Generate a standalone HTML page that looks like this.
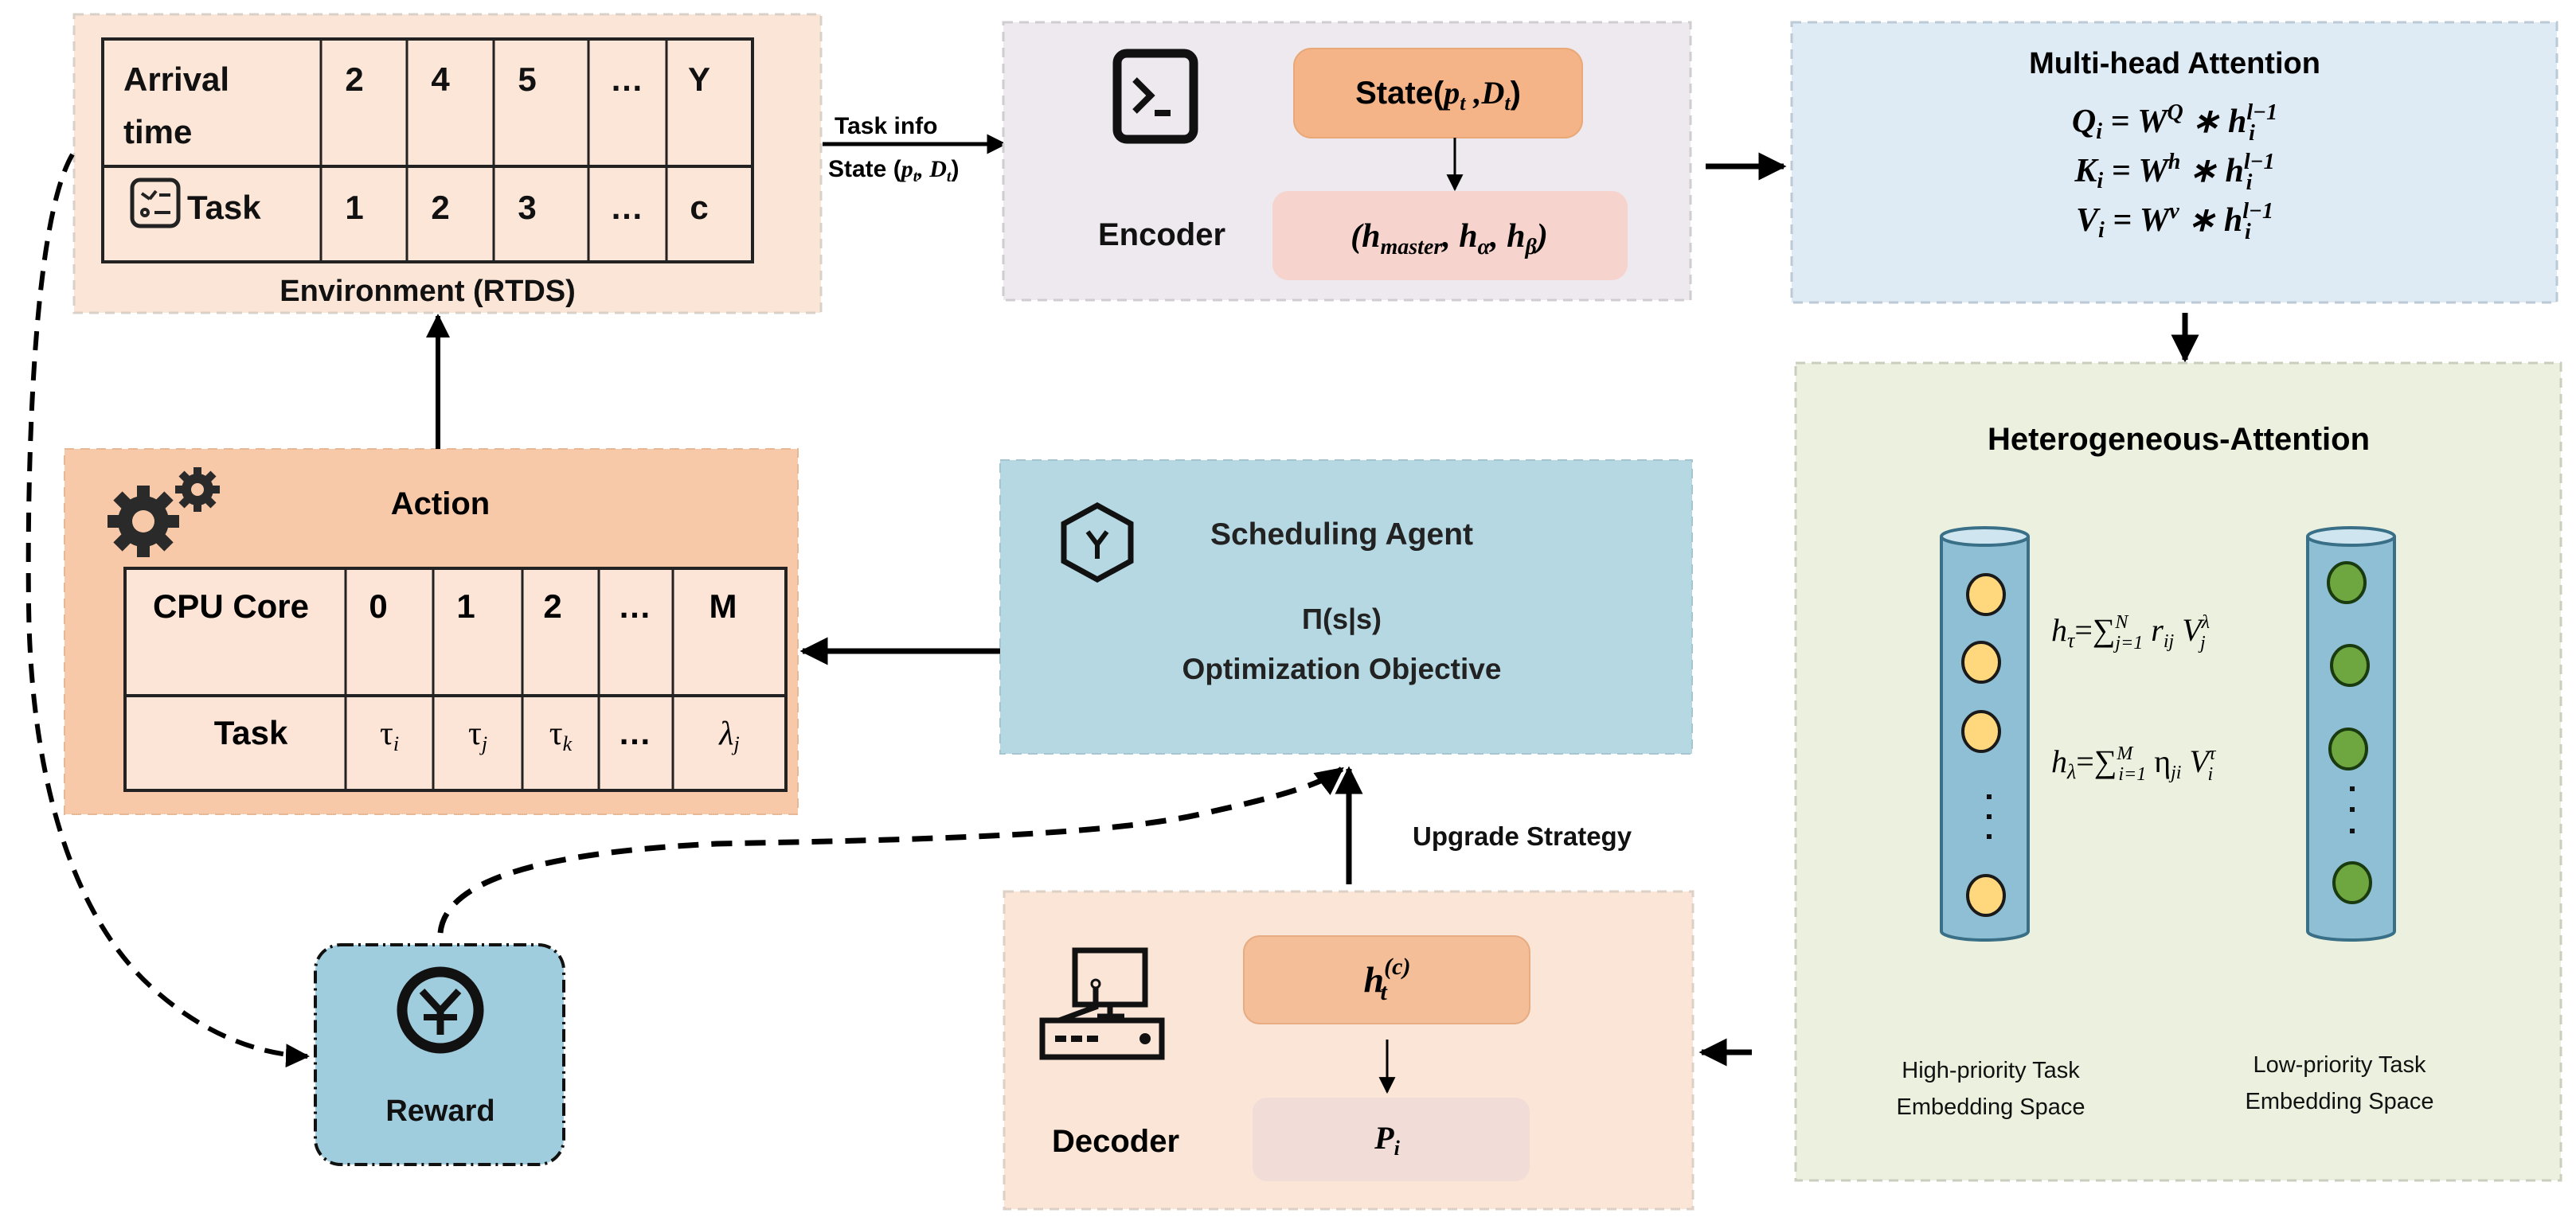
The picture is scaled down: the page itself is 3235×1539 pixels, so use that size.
<!DOCTYPE html>
<html><head><meta charset="utf-8"><style>html,body{margin:0;padding:0;background:#fff}svg{display:block}</style></head><body>
<svg width="3235" height="1539" viewBox="0 0 3235 1539" xmlns="http://www.w3.org/2000/svg" font-family="Liberation Sans, sans-serif">
<defs>
<marker id="ah" viewBox="0 0 10 10" refX="9" refY="5" markerWidth="5" markerHeight="5" orient="auto"><path d="M0,0 L10,5 L0,10 z" fill="#000"/></marker>
<marker id="ahs" viewBox="0 0 10 10" refX="9" refY="5" markerWidth="7" markerHeight="7" orient="auto"><path d="M0,0 L10,5 L0,10 z" fill="#000"/></marker>
</defs>

<!-- Environment -->
<rect x="93" y="18" width="938" height="375" fill="#fbe5d6" stroke="#d9d0c8" stroke-width="3" stroke-dasharray="12,8"/>
<rect x="129" y="49" width="816" height="280" fill="#fce6d8" stroke="#222" stroke-width="4"/>
<line x1="129" y1="209" x2="945" y2="209" stroke="#222" stroke-width="4"/>
<g stroke="#222" stroke-width="3"><line x1="403" y1="49" x2="403" y2="329"/><line x1="511" y1="49" x2="511" y2="329"/><line x1="620" y1="49" x2="620" y2="329"/><line x1="739" y1="49" x2="739" y2="329"/><line x1="837" y1="49" x2="837" y2="329"/></g>
<g font-size="42" font-weight="bold" fill="#111">
<text x="155" y="114">Arrival</text><text x="155" y="180">time</text>
<g text-anchor="middle"><text x="445" y="114">2</text><text x="553" y="114">4</text><text x="662" y="114">5</text><text x="787" y="114">…</text><text x="878" y="114">Y</text>
<text x="445" y="275">1</text><text x="553" y="275">2</text><text x="662" y="275">3</text><text x="787" y="275">…</text><text x="878" y="275">c</text></g>
<text x="235" y="275">Task</text></g>
<rect x="166" y="226" width="58" height="58" rx="10" fill="none" stroke="#222" stroke-width="5"/>
<g stroke="#222" stroke-width="4"><line x1="178" y1="243" x2="188" y2="250"/><line x1="188" y1="250" x2="196" y2="240"/><line x1="200" y1="245" x2="214" y2="245"/><circle cx="182" cy="267" r="4" fill="none"/><line x1="194" y1="267" x2="214" y2="267"/></g>
<text x="537" y="378" font-size="38" font-weight="bold" text-anchor="middle" fill="#111">Environment (RTDS)</text>

<!-- Task info arrow -->
<line x1="1033" y1="181" x2="1262" y2="181" stroke="#000" stroke-width="5" marker-end="url(#ah)"/>
<text x="1048" y="168" font-size="30" font-weight="bold">Task info</text>
<text x="1040" y="222" font-size="30" font-weight="bold">State (<tspan font-family="Liberation Serif, serif" font-style="italic">p<tspan font-size="20" dy="6">t</tspan><tspan dy="-6">, D</tspan><tspan font-size="20" dy="6">t</tspan></tspan><tspan dy="-6">)</tspan></text>

<!-- Encoder -->
<rect x="1260" y="28" width="863" height="349" fill="#ede9ee" stroke="#d0ccd0" stroke-width="3" stroke-dasharray="12,8"/>
<rect x="1403" y="67" width="96" height="108" rx="12" fill="none" stroke="#111" stroke-width="11"/>
<path d="M1425,100 L1445,120 L1425,140" fill="none" stroke="#111" stroke-width="8"/>
<line x1="1450" y1="142" x2="1470" y2="142" stroke="#111" stroke-width="8"/>
<text x="1459" y="308" font-size="40" font-weight="bold" text-anchor="middle" fill="#111">Encoder</text>
<rect x="1625" y="61" width="362" height="112" rx="22" fill="#f4b487" stroke="#e8a878" stroke-width="2"/>
<text x="1806" y="130" font-size="40" font-weight="bold" text-anchor="middle">State(<tspan font-family="Liberation Serif, serif" font-style="italic">p<tspan font-size="26" dy="8">t</tspan><tspan dy="-8"> ,D</tspan><tspan font-size="26" dy="8">t</tspan></tspan><tspan dy="-8">)</tspan></text>
<line x1="1827" y1="173" x2="1827" y2="238" stroke="#000" stroke-width="3" marker-end="url(#ahs)"/>
<rect x="1598" y="240" width="446" height="112" rx="20" fill="#f6d3cc"/>
<text x="1820" y="310" font-size="42" font-weight="bold" font-style="italic" font-family="Liberation Serif, serif" text-anchor="middle">(h<tspan font-size="28" dy="9">master</tspan><tspan dy="-9">, h</tspan><tspan font-size="28" dy="9">α</tspan><tspan dy="-9">, h</tspan><tspan font-size="28" dy="9">β</tspan><tspan dy="-9">)</tspan></text>

<!-- Encoder -> MHA -->
<line x1="2142" y1="209" x2="2240" y2="209" stroke="#000" stroke-width="7" marker-end="url(#ah)"/>

<!-- MHA -->
<rect x="2250" y="28" width="961" height="352" fill="#deebf4" stroke="#bccad6" stroke-width="3" stroke-dasharray="12,8"/>
<text x="2731" y="92" font-size="38" font-weight="bold" text-anchor="middle">Multi-head Attention</text>
<g font-family="Liberation Serif, serif" font-size="42" font-weight="bold" font-style="italic" text-anchor="middle">
<text x="2731" y="166">Q<tspan font-size="28" dy="8">i</tspan><tspan dy="-8"> = W</tspan><tspan font-size="28" dy="-16">Q</tspan><tspan dy="16"> ∗ h</tspan><tspan font-size="28" dy="-16">l−1</tspan><tspan font-size="28" dx="-36" dy="26">i</tspan></text>
<text x="2731" y="228">K<tspan font-size="28" dy="8">i</tspan><tspan dy="-8"> = W</tspan><tspan font-size="28" dy="-16">h</tspan><tspan dy="16"> ∗ h</tspan><tspan font-size="28" dy="-16">l−1</tspan><tspan font-size="28" dx="-36" dy="26">i</tspan></text>
<text x="2731" y="290">V<tspan font-size="28" dy="8">i</tspan><tspan dy="-8"> = W</tspan><tspan font-size="28" dy="-16">v</tspan><tspan dy="16"> ∗ h</tspan><tspan font-size="28" dy="-16">l−1</tspan><tspan font-size="28" dx="-36" dy="26">i</tspan></text>
</g>
<line x1="2744" y1="393" x2="2744" y2="452" stroke="#000" stroke-width="7" marker-end="url(#ah)"/>

<!-- Hetero -->
<rect x="2255" y="456" width="961" height="1027" fill="#ebf1de" stroke="#c8cfbe" stroke-width="3" stroke-dasharray="12,8"/>
<text x="2736" y="565" font-size="40" font-weight="bold" text-anchor="middle">Heterogeneous-Attention</text>
<g stroke="#3a6f88" stroke-width="4">
<path d="M2438,674 L2438,1170 A54.5,11 0 0 0 2547,1170 L2547,674" fill="#8fbfd5"/>
<ellipse cx="2492.5" cy="674" rx="54.5" ry="11" fill="#cfe6f1"/>
<path d="M2898,674 L2898,1170 A54.5,11 0 0 0 3007,1170 L3007,674" fill="#8fbfd5"/>
<ellipse cx="2952.5" cy="674" rx="54.5" ry="11" fill="#cfe6f1"/>
</g>
<g fill="#ffd87e" stroke="#1a1a1a" stroke-width="4">
<ellipse cx="2494" cy="747" rx="23" ry="25"/><ellipse cx="2488" cy="832" rx="23" ry="25"/><ellipse cx="2488" cy="919" rx="23" ry="25"/><ellipse cx="2494" cy="1125" rx="23" ry="25"/></g>
<g fill="#6ea63f" stroke="#1a3a10" stroke-width="4">
<ellipse cx="2947" cy="732" rx="23" ry="25"/><ellipse cx="2951" cy="836" rx="23" ry="25"/><ellipse cx="2949" cy="941" rx="23" ry="25"/><ellipse cx="2954" cy="1109" rx="23" ry="25"/></g>
<g fill="#111"><rect x="2495" y="998" width="6" height="6"/><rect x="2495" y="1023" width="6" height="6"/><rect x="2495" y="1048" width="6" height="6"/>
<rect x="2951" y="988" width="6" height="6"/><rect x="2951" y="1014" width="6" height="6"/><rect x="2951" y="1041" width="6" height="6"/></g>
<g font-family="Liberation Serif, serif" font-size="40" font-style="italic">
<text x="2576" y="805">h<tspan font-size="26" dy="8">τ</tspan><tspan dy="-8" font-style="normal">=∑</tspan><tspan font-size="24" dy="-16">N</tspan><tspan font-size="24" dx="-16" dy="26">j=1</tspan><tspan dy="-10"> r</tspan><tspan font-size="24" dy="8">ij</tspan><tspan dy="-8"> V</tspan><tspan font-size="24" dy="-16">λ</tspan><tspan font-size="24" dx="-12" dy="26">j</tspan></text>
<text x="2576" y="970">h<tspan font-size="26" dy="8">λ</tspan><tspan dy="-8" font-style="normal">=∑</tspan><tspan font-size="24" dy="-16">M</tspan><tspan font-size="24" dx="-18" dy="26">i=1</tspan><tspan dy="-10" font-style="normal"> η</tspan><tspan font-size="24" dy="8">ji</tspan><tspan dy="-8"> V</tspan><tspan font-size="24" dy="-16">τ</tspan><tspan font-size="24" dx="-10" dy="26">i</tspan></text>
</g>
<g font-size="29" text-anchor="middle" fill="#111">
<text x="2500" y="1354">High-priority Task</text><text x="2500" y="1400">Embedding Space</text>
<text x="2938" y="1347">Low-priority Task</text><text x="2938" y="1393">Embedding Space</text></g>

<!-- Hetero -> Decoder -->
<line x1="2200" y1="1322" x2="2137" y2="1322" stroke="#000" stroke-width="7" marker-end="url(#ah)"/>

<!-- Decoder -->
<rect x="1261" y="1120" width="865" height="399" fill="#fbe5d6" stroke="#ddd0c6" stroke-width="3" stroke-dasharray="12,8"/>
<g stroke="#111" stroke-width="7" fill="none">
<rect x="1350" y="1194" width="88" height="68"/>
<line x1="1394" y1="1262" x2="1394" y2="1275"/><line x1="1378" y1="1277" x2="1412" y2="1277"/>
<rect x="1309" y="1282" width="150" height="46"/>
<path d="M1376,1240 L1376,1265 L1330,1282"/>
</g>
<circle cx="1376" cy="1236" r="5" fill="none" stroke="#111" stroke-width="3"/>
<g fill="#111"><rect x="1325" y="1301" width="14" height="8"/><rect x="1345" y="1301" width="14" height="8"/><rect x="1365" y="1301" width="14" height="8"/><circle cx="1438" cy="1305" r="7"/></g>
<text x="1401" y="1447" font-size="40" font-weight="bold" text-anchor="middle">Decoder</text>
<rect x="1562" y="1176" width="359" height="110" rx="20" fill="#f4be98" stroke="#e6ac84" stroke-width="2"/>
<text x="1742" y="1246" font-family="Liberation Serif, serif" font-size="46" font-weight="bold" font-style="italic" text-anchor="middle">h<tspan font-size="30" dy="-22">(c)</tspan><tspan font-size="30" dx="-38" dy="32">t</tspan></text>
<line x1="1742" y1="1306" x2="1742" y2="1372" stroke="#000" stroke-width="3" marker-end="url(#ahs)"/>
<rect x="1573" y="1379" width="348" height="105" rx="18" fill="#f1dcd8"/>
<text x="1742" y="1443" font-family="Liberation Serif, serif" font-size="40" font-weight="bold" font-style="italic" text-anchor="middle">P<tspan font-size="26" dy="8">i</tspan></text>

<!-- Upgrade arrow -->
<line x1="1694" y1="1111" x2="1694" y2="966" stroke="#000" stroke-width="7" marker-end="url(#ah)"/>
<text x="1774" y="1062" font-size="33" font-weight="bold" fill="#111">Upgrade Strategy</text>

<!-- Scheduling Agent -->
<rect x="1256" y="578" width="869" height="369" fill="#b5d8e2" stroke="#a6c6cf" stroke-width="2" stroke-dasharray="12,8"/>
<path d="M1378,635 L1420,658 L1420,705 L1378,728 L1336,705 L1336,658 Z" fill="none" stroke="#111" stroke-width="7"/>
<path d="M1366,668 L1378,684 L1390,668 M1378,684 L1378,702" fill="none" stroke="#111" stroke-width="6"/>
<text x="1685" y="684" font-size="39" font-weight="bold" text-anchor="middle" fill="#222">Scheduling Agent</text>
<text x="1685" y="790" font-size="36" font-weight="bold" text-anchor="middle" fill="#222">Π(s|s)</text>
<text x="1685" y="853" font-size="37" font-weight="bold" text-anchor="middle" fill="#222">Optimization Objective</text>

<!-- Agent -> Action -->
<line x1="1256" y1="818" x2="1008" y2="818" stroke="#000" stroke-width="7" marker-end="url(#ah)"/>

<!-- Action -->
<rect x="81" y="564" width="921" height="459" fill="#f8c9a8" stroke="#e6b896" stroke-width="2" stroke-dasharray="12,8"/>
<text x="553" y="646" font-size="40" font-weight="bold" text-anchor="middle">Action</text>
<g fill="#2a2a2a">
<circle cx="180" cy="655" r="32"/>
<g stroke="#2a2a2a" stroke-width="16"><line x1="180" y1="610" x2="180" y2="700"/><line x1="135" y1="655" x2="225" y2="655"/><line x1="148" y1="623" x2="212" y2="687"/><line x1="212" y1="623" x2="148" y2="687"/></g>
<circle cx="180" cy="655" r="14" fill="#f8c9a8"/>
<circle cx="248" cy="615" r="20"/>
<g stroke="#2a2a2a" stroke-width="10"><line x1="248" y1="587" x2="248" y2="643"/><line x1="220" y1="615" x2="276" y2="615"/><line x1="228" y1="595" x2="268" y2="635"/><line x1="268" y1="595" x2="228" y2="635"/></g>
<circle cx="248" cy="615" r="8" fill="#f8c9a8"/>
</g>
<rect x="157" y="714" width="830" height="279" fill="#fce4d6" stroke="#222" stroke-width="4"/>
<line x1="157" y1="874" x2="987" y2="874" stroke="#222" stroke-width="4"/>
<g stroke="#222" stroke-width="3"><line x1="434" y1="714" x2="434" y2="993"/><line x1="544" y1="714" x2="544" y2="993"/><line x1="656" y1="714" x2="656" y2="993"/><line x1="752" y1="714" x2="752" y2="993"/><line x1="845" y1="714" x2="845" y2="993"/></g>
<g font-size="42" font-weight="bold" text-anchor="middle">
<text x="290" y="776">CPU Core</text><text x="475" y="776">0</text><text x="585" y="776">1</text><text x="694" y="776">2</text><text x="797" y="776">…</text><text x="908" y="776">M</text>
<text x="315" y="935">Task</text><text x="797" y="935">…</text></g>
<g font-family="Liberation Serif, serif" font-size="42" font-style="italic" text-anchor="middle">
<text x="489" y="935"><tspan font-style="normal">τ</tspan><tspan font-size="26" dy="8">i</tspan></text>
<text x="600" y="935"><tspan font-style="normal">τ</tspan><tspan font-size="26" dy="8">j</tspan></text>
<text x="704" y="935"><tspan font-style="normal">τ</tspan><tspan font-size="26" dy="8">k</tspan></text>
<text x="916" y="935">λ<tspan font-size="26" dy="8">j</tspan></text></g>

<!-- Action -> Env -->
<line x1="550" y1="564" x2="550" y2="397" stroke="#000" stroke-width="6" marker-end="url(#ah)"/>

<!-- Reward -->
<rect x="396" y="1187" width="312" height="276" rx="32" fill="#a0cddd" stroke="#111" stroke-width="4" stroke-dasharray="16,6,3,6"/>
<circle cx="553" cy="1269" r="48" fill="none" stroke="#111" stroke-width="13"/>
<path d="M530,1245 L553,1270 L576,1245" fill="none" stroke="#111" stroke-width="9"/>
<line x1="553" y1="1268" x2="553" y2="1300" stroke="#111" stroke-width="9"/>
<line x1="532" y1="1278" x2="574" y2="1278" stroke="#111" stroke-width="8"/>
<text x="553" y="1408" font-size="38" font-weight="bold" text-anchor="middle" fill="#111">Reward</text>

<!-- dashed curves -->
<path d="M91,194 C40,280 34,600 36,760 C38,950 80,1140 190,1240 C250,1295 320,1325 386,1327" fill="none" stroke="#000" stroke-width="6" stroke-dasharray="24,14" marker-end="url(#ah)"/>
<path d="M553,1172 C560,1100 700,1070 900,1060 C1150,1055 1400,1050 1520,1020 C1610,1000 1660,985 1685,966" fill="none" stroke="#000" stroke-width="7" stroke-dasharray="26,16" marker-end="url(#ah)"/>
</svg>
</body></html>
